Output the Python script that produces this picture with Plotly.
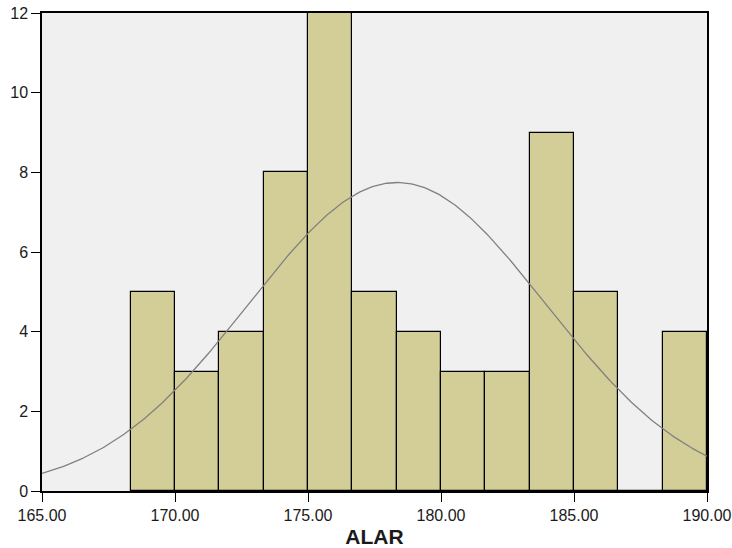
import numpy as np
import plotly.graph_objects as go

# Histogram bins (left edges) and counts
bin_left = [168.333, 170.0, 171.667, 173.333, 175.0, 176.667, 178.333,
            180.0, 181.667, 183.333, 185.0, 186.667, 188.333]
counts = [5, 3, 4, 8, 12, 5, 4, 3, 3, 9, 5, 0, 4]
bin_width = 1.6667

# Fitted normal curve parameters
mean_val = 178.35
sd_val = 5.58
n_total = sum(counts)

x_ticks = [165, 170, 175, 180, 185, 190]
x_tick_labels = ["165.00", "170.00", "175.00", "180.00", "185.00", "190.00"]
y_ticks = [0, 2, 4, 6, 8, 10, 12]

centers = [b + bin_width / 2 for b in bin_left]

xs = np.linspace(165, 190, 300)
ys = n_total * bin_width / (sd_val * np.sqrt(2 * np.pi)) * np.exp(-0.5 * ((xs - mean_val) / sd_val) ** 2)

fig = go.Figure()
fig.add_trace(go.Bar(
    x=centers, y=counts, width=[bin_width] * len(centers),
    marker=dict(color="rgb(211,206,152)", line=dict(color="black", width=1.2)),
    hoverinfo="x+y",
))
fig.add_trace(go.Scatter(
    x=xs, y=ys, mode="lines",
    line=dict(color="rgb(128,128,128)", width=1.3),
    hoverinfo="skip",
))

fig.update_layout(
    width=732, height=548,
    margin=dict(l=42, r=25, t=13, b=57, autoexpand=False),
    paper_bgcolor="white",
    plot_bgcolor="rgb(240,240,240)",
    showlegend=False,
    bargap=0,
    font=dict(family="Liberation Sans, Arial, sans-serif", size=16, color="#1a1a1a"),
    xaxis=dict(
        range=[165, 190], tickvals=x_ticks, ticktext=x_tick_labels,
        showgrid=False, zeroline=False,
        showline=True, linecolor="black", linewidth=1.5, mirror=True,
        ticks="outside", ticklen=9, tickcolor="black", tickwidth=1,
        title=dict(text="<b>ALAR</b>", font=dict(size=21, color="#1a1a1a"), standoff=6),
    ),
    yaxis=dict(
        range=[0, 12], tickvals=y_ticks,
        showgrid=False, zeroline=False,
        showline=True, linecolor="black", linewidth=1.5, mirror=True,
        ticks="outside", ticklen=9, tickcolor="black", tickwidth=1,
    ),
)

fig.write_html("out.html")
